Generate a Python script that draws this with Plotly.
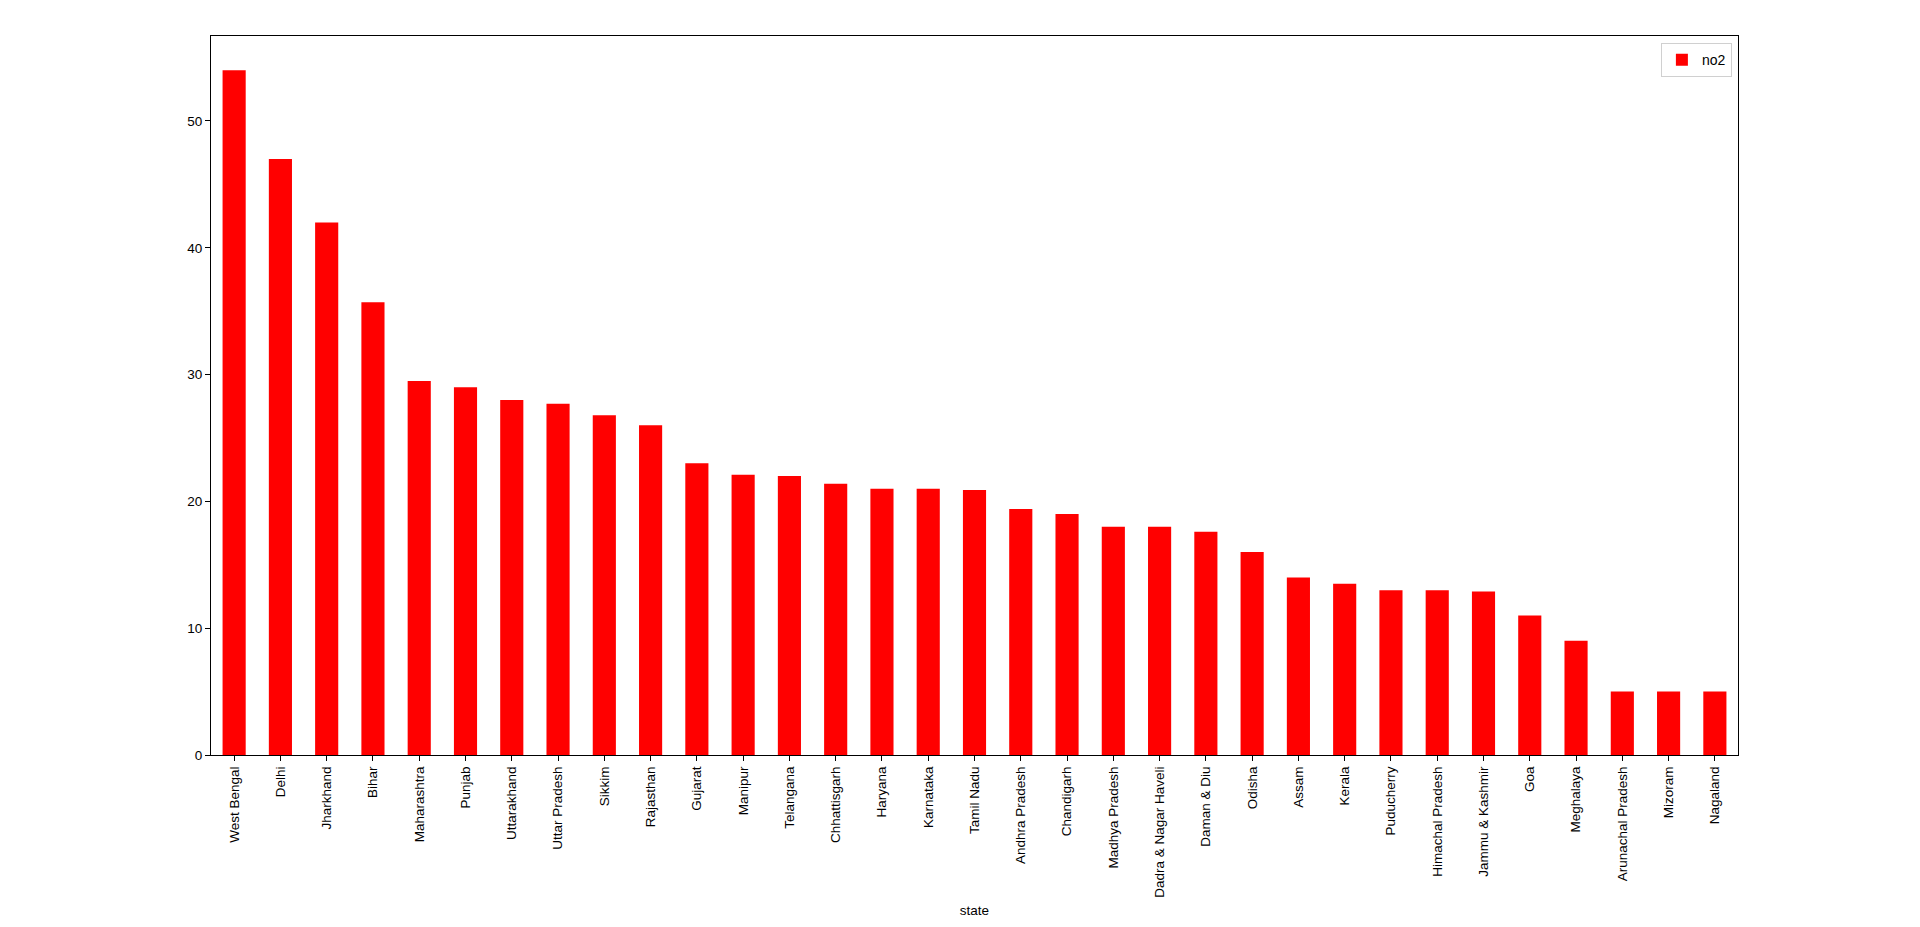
import plotly.graph_objects as go

# no2 levels by state
states = ["West Bengal", "Delhi", "Jharkhand", "Bihar", "Maharashtra", "Punjab",
          "Uttarakhand", "Uttar Pradesh", "Sikkim", "Rajasthan", "Gujarat", "Manipur",
          "Telangana", "Chhattisgarh", "Haryana", "Karnataka", "Tamil Nadu",
          "Andhra Pradesh", "Chandigarh", "Madhya Pradesh", "Dadra & Nagar Haveli",
          "Daman & Diu", "Odisha", "Assam", "Kerala", "Puducherry", "Himachal Pradesh",
          "Jammu & Kashmir", "Goa", "Meghalaya", "Arunachal Pradesh", "Mizoram", "Nagaland"]
no2 = [54.0, 47.0, 42.0, 35.7, 29.5, 29.0, 28.0, 27.7, 26.8, 26.0, 23.0, 22.1,
       22.0, 21.4, 21.0, 21.0, 20.9, 19.4, 19.0, 18.0, 18.0, 17.6, 16.0, 14.0,
       13.5, 13.0, 13.0, 12.9, 11.0, 9.0, 5.0, 5.0, 5.0]
y_ticks = [0, 10, 20, 30, 40, 50]

FONT = "Liberation Sans, Arial, sans-serif"

fig = go.Figure(go.Bar(x=states, y=no2, name="no2", width=0.5,
                       marker=dict(color="#ff0000", line=dict(width=0))))

# page body has an 8px margin, so the figure is a bit smaller than the window
fig.update_layout(
    width=1912, height=919,
    paper_bgcolor="white", plot_bgcolor="white",
    margin=dict(l=203, r=182, t=28, b=172),
    font=dict(family=FONT, size=13.5, color="black"),
    showlegend=True,
    legend=dict(x=0.996, y=0.99, xanchor="right", yanchor="top",
                bordercolor="#d0d0d0", borderwidth=1, bgcolor="white",
                font=dict(size=14)),
)
fig.update_xaxes(
    range=[-0.5, len(states) - 0.5], tickangle=-90,
    showline=True, linecolor="black", linewidth=1.2, mirror=True,
    ticks="outside", ticklen=5, tickcolor="black", showgrid=False,
    title=dict(text="state", font=dict(size=13.5), standoff=8),
)
fig.update_yaxes(
    range=[0, max(no2) * 1.05], tickvals=y_ticks,
    showline=True, linecolor="black", linewidth=1.2, mirror=True,
    ticks="outside", ticklen=5, tickcolor="black", showgrid=False, zeroline=False,
)

fig.write_html("out.html")
